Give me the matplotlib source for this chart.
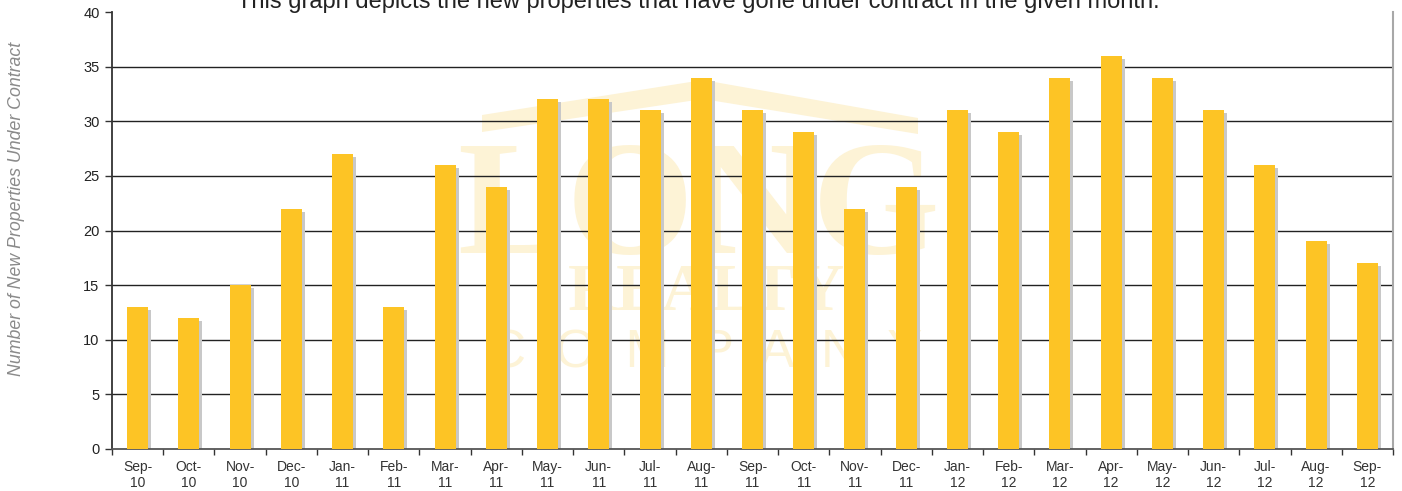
import matplotlib
matplotlib.use("Agg")
import matplotlib.pyplot as plt
import matplotlib.transforms as mtransforms
from matplotlib.patches import Polygon
import numpy as np

months = ["Sep-\n10", "Oct-\n10", "Nov-\n10", "Dec-\n10", "Jan-\n11", "Feb-\n11", "Mar-\n11",
          "Apr-\n11", "May-\n11", "Jun-\n11", "Jul-\n11", "Aug-\n11", "Sep-\n11", "Oct-\n11",
          "Nov-\n11", "Dec-\n11", "Jan-\n12", "Feb-\n12", "Mar-\n12", "Apr-\n12", "May-\n12",
          "Jun-\n12", "Jul-\n12", "Aug-\n12", "Sep-\n12"]
values = [13, 12, 15, 22, 27, 13, 26, 24, 32, 32, 31, 34, 31, 29, 22, 24, 31, 29, 34, 36, 34,
          31, 26, 19, 17]
yticks = [0, 5, 10, 15, 20, 25, 30, 35, 40]

title = "This graph depicts the new properties that have gone under contract in the given month."
ylabel = "Number of New Properties Under Contract"

W, H = 1402, 491
plt.rcParams['font.family'] = ['Liberation Sans', 'DejaVu Sans']
fig = plt.figure(figsize=(W / 100, H / 100), dpi=100)
fig.patch.set_facecolor('white')


def fx(x):
    return x / W


def fy(y):
    return 1 - y / H


ax = fig.add_axes([fx(112), fy(449), fx(1393) - fx(112), fy(12) - fy(449)])
ax.set_facecolor('none')

# watermark (faint logo), behind everything
wm = '#fdf3d6'
roof = [(482, 115), (703, 80), (918, 118), (918, 134), (703, 99), (482, 132)]
fig.patches.append(Polygon([(fx(a), fy(b)) for a, b in roof], closed=True,
                           transform=fig.transFigure, facecolor=wm, edgecolor='none', zorder=-5))
fig.text(fx(698), fy(253), "LONG", fontsize=118, family=['Liberation Serif', 'DejaVu Serif'],
         weight='bold', color=wm, ha='center', va='baseline', zorder=-5)
fig.text(fx(706), fy(310), "REALTY", fontsize=49, family=['Liberation Serif', 'DejaVu Serif'],
         weight='bold', color=wm, ha='center', va='baseline', zorder=-5)
fig.text(fx(705), fy(367), "C  O  M  P  A  N  Y", fontsize=38, color=wm,
         ha='center', va='baseline', zorder=-5)

x = np.arange(len(values))
bw = 0.41
shadow_tr = mtransforms.offset_copy(ax.transData, fig=fig, x=3, y=-3, units='dots')
ax.bar(x, values, width=bw, color='#c8c8c8', zorder=2, transform=shadow_tr)
ax.bar(x, values, width=bw, color='#fdc425', zorder=3)

ax.set_xlim(-0.5, len(values) - 0.5)
ax.set_ylim(0, 40)
ax.set_yticks(yticks)
ax.tick_params(axis='y', length=5, width=1, color='#333333', labelsize=10.5, pad=4,
               labelcolor='#222222')
for y in yticks[1:-1]:
    ax.axhline(y, color='#222222', lw=1.0, zorder=1)

ax.set_xticks(x)
ax.set_xticklabels(months, fontsize=10, linespacing=1.2, color='#333333')
ax.tick_params(axis='x', which='major', length=0, pad=8)
ax.set_xticks(np.arange(-0.5, len(values) + 0.5, 1), minor=True)
ax.tick_params(axis='x', which='minor', length=4, width=1, color='#333333')

ax.spines['top'].set_visible(False)
ax.spines['left'].set_color('#333333')
ax.spines['left'].set_linewidth(1.3)
ax.spines['bottom'].set_color('#555555')
ax.spines['bottom'].set_linewidth(1.3)
ax.spines['right'].set_color('#a8a8a8')
ax.spines['right'].set_linewidth(1.5)

fig.text(fx(698), fy(8), title, fontsize=17, color='#222222', ha='center', va='baseline')
fig.text(fx(17), fy(209), ylabel, fontsize=12.8, style='italic', color='#8a8a8a',
         rotation=90, ha='center', va='center')

fig.savefig('out.png', dpi=100, facecolor='white')
